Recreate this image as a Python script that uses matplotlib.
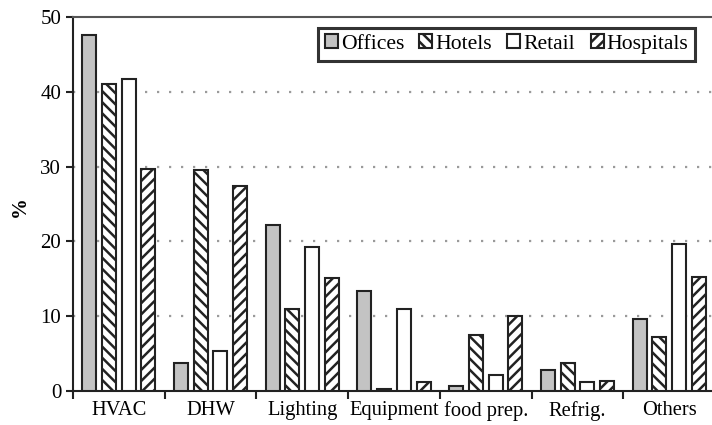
import numpy as np
import matplotlib
matplotlib.use("Agg")
import matplotlib.pyplot as plt

plt.rcParams['font.family'] = ['Liberation Serif', 'DejaVu Serif']
plt.rcParams['hatch.linewidth'] = 1.8

# data (% share of energy use)
categories = ['HVAC', 'DHW', 'Lighting', 'Equipment', 'food prep.', 'Refrig.', 'Others']
offices = [47.6, 3.8, 22.2, 13.4, 0.7, 2.8, 9.6]
hotels = [41.0, 29.5, 11.0, 0.3, 7.5, 3.7, 7.2]
retail = [41.7, 5.3, 19.2, 11.0, 2.2, 1.2, 19.6]
hospitals = [29.7, 27.4, 15.1, 1.2, 10.0, 1.4, 15.3]

series = [
    ('Offices', offices, '#c3c3c3', None),
    ('Hotels', hotels, 'white', '\\\\\\'),
    ('Retail', retail, 'white', None),
    ('Hospitals', hospitals, 'white', '///'),
]

fig = plt.figure(figsize=(7.12, 4.25), dpi=100)
ax = fig.add_axes([73 / 712, 34 / 425, 642 / 712, 374 / 425])

x = np.arange(len(categories)) + 0.5
pitch = 0.215
width = 0.153
for i, (name, vals, fc, hatch) in enumerate(series):
    ax.bar(x + (i - 1.5) * pitch, vals, width, color=fc, edgecolor='#222222',
           linewidth=1.5, hatch=hatch, label=name, zorder=3)

ax.set_xlim(0, len(categories))
ax.set_ylim(0, 50)
ax.set_yticks([0, 10, 20, 30, 40, 50])
ax.set_xticks(x)
ax.set_xticklabels(categories)
ax.set_xticks(np.arange(len(categories) + 1), minor=True)
ax.tick_params(axis='x', which='major', length=0, labelsize=14.8, pad=7)
ax.tick_params(axis='x', which='minor', length=6, width=1.5, color='#222222')
ax.tick_params(axis='y', length=5, width=1.5, color='#222222', labelsize=15)

for v in [10, 20, 30, 40]:
    ax.axhline(v, color='#9a9a9a', lw=1.6, ls=(0, (1, 4.4)), zorder=1)

ax.spines['right'].set_visible(False)
ax.spines['top'].set_color('#555555')
ax.spines['top'].set_linewidth(1.5)
ax.spines['left'].set_linewidth(1.5)
ax.spines['left'].set_color('#222222')
ax.spines['bottom'].set_linewidth(1.5)
ax.spines['bottom'].set_color('#222222')

fig.text(0.028, 0.515, '%', rotation=90, fontsize=15, fontweight='bold',
         ha='center', va='center')

leg = ax.legend(loc='upper right', bbox_to_anchor=(695 / 712, 1 - 28 / 425),
                bbox_transform=fig.transFigure, ncol=4, fontsize=15.6,
                handlelength=0.6, handleheight=0.6, handletextpad=0.15,
                columnspacing=0.7, borderpad=0.3, borderaxespad=0,
                fancybox=False, framealpha=1)
leg.get_frame().set_edgecolor('#333333')
leg.get_frame().set_linewidth(2.2)

fig.savefig('out.png', dpi=100)
